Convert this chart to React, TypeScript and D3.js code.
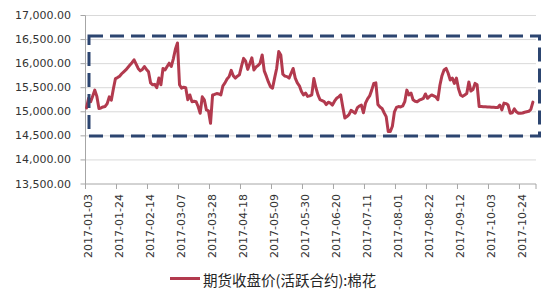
import React from "react";
import * as d3 from "d3";

const tickLabels = [
  "2017-01-03", "2017-01-24", "2017-02-14", "2017-03-07", "2017-03-28",
  "2017-04-18", "2017-05-09", "2017-05-30", "2017-06-20", "2017-07-11",
  "2017-08-01", "2017-08-22", "2017-09-12", "2017-10-03", "2017-10-24",
];
const yTicks = [13500, 14000, 14500, 15000, 15500, 16000, 16500, 17000];
const seriesName = "期货收盘价(活跃合约):棉花";
const categoryCount = 218;
const tickEvery = 15;

const prices = [
  15080, 15280, 15210, 15330, 15450, 15320, 15070, 15080, 15100, 15110,
  15170, 15310, 15240, 15480, 15690, 15710, 15740, 15790, 15830, 15870,
  15920, 15970, 16020, 16080, 15990, 15900, 15850, 15880, 15940, 15880,
  15830, 15600, 15560, 15570, 15500, 15700, 15560, 15900, 15870, 15940,
  16010, 15940, 16100, 16300, 16430, 15560, 15490, 15510, 15500, 15250,
  15350, 15210, 15220, 15210, 15110, 14970, 15310, 15250, 15040, 15020,
  14760, 15350, 15360, 15380, 15370, 15350, 15540, 15600, 15680, 15730,
  15860, 15750, 15700, 15740, 15770, 15950, 16110, 16050, 15880, 16000,
  16120, 15870, 15930, 15960, 16010, 16180, 15850, 15740, 15620, 15520,
  15490, 15700, 15900, 16250, 16180, 15780, 15740, 15730, 15700, 15800,
  15900, 15700, 15600, 15540, 15420, 15350, 15390, 15320, 15330, 15350,
  15690, 15500, 15350, 15250, 15230, 15210, 15150, 15200, 15180, 15140,
  15220, 15280, 15310, 15350, 15100, 14870, 14900, 14940, 15030, 15000,
  14970, 15080, 15120, 15140, 14980, 15180, 15270, 15330, 15450, 15590,
  15600, 15150, 15100, 15070, 14980, 14900, 14590, 14590, 14700, 15000,
  15090, 15110, 15100, 15120, 15210, 15450, 15350, 15390, 15250, 15220,
  15210, 15240, 15260, 15280, 15370, 15280, 15320, 15350, 15330, 15310,
  15250, 15550, 15750, 15870, 15900, 15800, 15660, 15700, 15590, 15700,
  15480, 15350, 15320, 15350, 15380, 15620, 15430, 15460, 15590, 15560,
  15110, 15110, 15105, 15105, 15100, 15100, 15095, 15095, 15090, 15090,
  15140, 15040, 15180, 15170, 15140, 14970, 14980, 15060, 15000, 14970,
  14970, 14975, 14990, 15000, 15010, 15050, 15200,
];

const W = 550;
const H = 300;
const left = 85.5;
const right = 536;
const top = 15.5;
const bottom = 184;

export default function App() {
  const idx = d3.range(categoryCount);
  const x = d3.scaleBand<number>().domain(idx).range([left, right]).paddingInner(0).paddingOuter(0);
  const bw = x.bandwidth();
  const cx = (i: number) => (x(i) as number) + bw / 2;
  const y = d3.scaleLinear().domain([13500, 17000]).range([bottom, top]);
  const fmt = d3.format(",.2f");

  const line = d3
    .line<number>()
    .x((_, i) => cx(i))
    .y((d) => y(d));

  const font = "'DejaVu Sans', Verdana, sans-serif";

  return (
    <svg
      width={W}
      height={H}
      style={{ position: "absolute", left: 0, top: 0, background: "#fff" }}
    >
      <rect x={0} y={0} width={W} height={H} fill="#fff" />
      {yTicks.map((t) => (
        <g key={t}>
          {t !== 13500 && (
            <line x1={left} x2={right} y1={y(t)} y2={y(t)} stroke="#d9d9d9" strokeWidth={1} />
          )}
          <line x1={left - 5} x2={left} y1={y(t)} y2={y(t)} stroke="#a6a6a6" strokeWidth={1} />
          <text
            x={71}
            y={y(t)}
            textAnchor="end"
            dominantBaseline="central"
            fontFamily={font}
            fontSize={11}
            fill="#333"
          >
            {fmt(t)}
          </text>
        </g>
      ))}
      <line x1={left} x2={left} y1={top} y2={bottom} stroke="#a6a6a6" strokeWidth={1} />
      <line x1={left} x2={right} y1={bottom} y2={bottom} stroke="#a6a6a6" strokeWidth={1} />
      {tickLabels.map((lab, k) => {
        const i = k * tickEvery;
        const tx = x(i) as number;
        return (
          <g key={lab}>
            <line x1={tx} x2={tx} y1={bottom} y2={bottom + 5} stroke="#a6a6a6" strokeWidth={1} />
            <text
              transform={`translate(${cx(i) + 2},${194}) rotate(-90)`}
              textAnchor="end"
              dominantBaseline="central"
              fontFamily={font}
              fontSize={11}
              fill="#333"
            >
              {lab}
            </text>
          </g>
        );
      })}
      <line x1={right} x2={right} y1={bottom} y2={bottom + 5} stroke="#a6a6a6" strokeWidth={1} />
      <path
        d={line(prices) || ""}
        fill="none"
        stroke="#b23a4e"
        strokeWidth={3}
        strokeLinejoin="round"
        strokeLinecap="round"
      />
      <rect
        x={89}
        y={36}
        width={450.5}
        height={100}
        fill="none"
        stroke="#2c4570"
        strokeWidth={3}
        strokeDasharray="14,7"
      />
      <line x1={170} x2={200} y1={278.5} y2={278.5} stroke="#b23a4e" strokeWidth={3} />
      <text
        x={203}
        y={279}
        dominantBaseline="central"
        fontFamily="'Noto Sans CJK SC', sans-serif"
        fontSize={14.5}
        fill="#262626"
      >
        {seriesName}
      </text>
    </svg>
  );
}
